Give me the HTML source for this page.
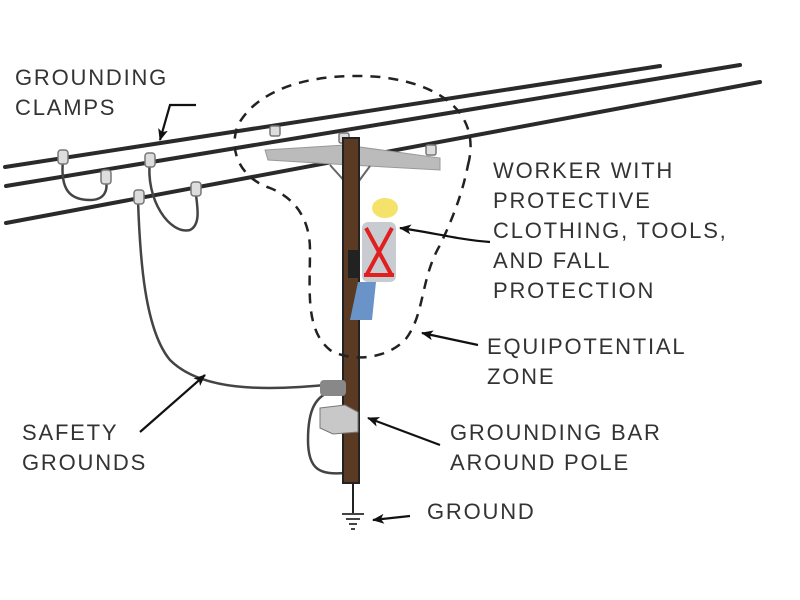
<!DOCTYPE html>
<html><head><meta charset="utf-8"><style>
html,body{margin:0;padding:0;background:#fff;}
svg{display:block}
text{font-family:"Liberation Sans",sans-serif;font-size:22px;letter-spacing:1.8px;fill:#333;}
</style></head><body>
<svg width="800" height="600" viewBox="0 0 800 600" xmlns="http://www.w3.org/2000/svg">
<defs>
<marker id="ah" markerWidth="12" markerHeight="10" refX="11" refY="5" orient="auto" markerUnits="userSpaceOnUse">
<path d="M0,0 L12,5 L0,10 L3,5 z" fill="#111"/></marker>
</defs>
<g stroke="#2a2a2a" stroke-width="4" stroke-linecap="round">
<line x1="5" y1="167" x2="660" y2="66"/>
<line x1="6" y1="186" x2="740" y2="65"/>
<line x1="6" y1="223" x2="760" y2="82"/>
</g>
<g fill="none" stroke="#444" stroke-width="2.5">
<path d="M63,160 C60,190 70,200 90,200 C105,200 108,190 106,180"/>
<path d="M150,160 C145,200 170,235 190,230 C200,225 198,210 196,195"/>
<path d="M138,200 C140,260 145,330 170,360 C200,390 260,392 335,384"/>
<path d="M335,390 C315,395 308,410 308,440 C308,470 320,475 345,473"/>
</g>
<g fill="#ddd" stroke="#777" stroke-width="1.5">
<rect x="58" y="150" width="10" height="14" rx="3"/>
<rect x="101" y="170" width="10" height="14" rx="3"/>
<rect x="145" y="153" width="10" height="14" rx="3"/>
<rect x="134" y="190" width="10" height="14" rx="3"/>
<rect x="191" y="182" width="10" height="14" rx="3"/>
<rect x="270" y="126" width="10" height="10" rx="2"/>
<rect x="339" y="133" width="10" height="10" rx="2"/>
<rect x="426" y="145" width="10" height="10" rx="2"/>
</g>
<polygon points="265,150 345,145 440,158 440,170 350,165 268,160" fill="#bbb" stroke="#999"/>
<line x1="330" y1="165" x2="348" y2="185" stroke="#666" stroke-width="2"/>
<line x1="370" y1="166" x2="356" y2="185" stroke="#666" stroke-width="2"/>
<rect x="343" y="138" width="16" height="345" fill="#5a3a22" stroke="#222" stroke-width="2"/>
<line x1="353" y1="483" x2="353" y2="513" stroke="#222" stroke-width="2"/>
<g stroke="#444" stroke-width="2"><line x1="342" y1="514" x2="364" y2="514"/><line x1="346" y1="519" x2="360" y2="519"/><line x1="349" y1="524" x2="357" y2="524"/><line x1="351" y1="529" x2="355" y2="529"/></g>
<rect x="320" y="380" width="26" height="16" rx="4" fill="#888"/>
<polygon points="320,408 345,405 358,412 358,432 333,434 320,428" fill="#c8c8c8" stroke="#777"/>
<path d="M350,320 L358,282 L376,282 L372,320 Z" fill="#6a94c8"/>
<rect x="362" y="222" width="34" height="60" rx="6" fill="#c8ccd0"/>
<path d="M366,228 L392,276 M392,228 L366,276 M364,275 L394,275" stroke="#e02020" stroke-width="4" fill="none"/>
<ellipse cx="385" cy="208" rx="13" ry="10" fill="#f5e26a"/>
<rect x="348" y="250" width="12" height="28" fill="#222"/>
<path d="M468,165 C480,120 450,85 380,77 C320,72 260,85 238,125 C228,150 240,178 270,188 C300,200 310,225 310,250 C310,290 305,330 330,350 C350,362 385,360 405,340 C425,315 420,280 440,245 C452,220 462,195 468,165 Z" fill="none" stroke="#222" stroke-width="2.5" stroke-dasharray="10,8"/>
<g stroke="#111" stroke-width="2.2" fill="none" marker-end="url(#ah)">
<path d="M196,105 L170,105 L160,140"/>
<path d="M490,242 C460,240 430,232 400,228"/>
<path d="M478,345 L422,333"/>
<path d="M440,445 L368,418"/>
<path d="M410,516 L373,520"/>
<path d="M140,432 L205,375"/>
</g>
<text x="15" y="85">GROUNDING</text>
<text x="15" y="115">CLAMPS</text>
<text x="493" y="178">WORKER WITH</text>
<text x="493" y="208">PROTECTIVE</text>
<text x="493" y="238">CLOTHING, TOOLS,</text>
<text x="493" y="268">AND FALL</text>
<text x="493" y="298">PROTECTION</text>
<text x="487" y="354">EQUIPOTENTIAL</text>
<text x="487" y="384">ZONE</text>
<text x="22" y="440">SAFETY</text>
<text x="22" y="470">GROUNDS</text>
<text x="450" y="440">GROUNDING BAR</text>
<text x="450" y="470">AROUND POLE</text>
<text x="427" y="519">GROUND</text>
</svg>
</body></html>
